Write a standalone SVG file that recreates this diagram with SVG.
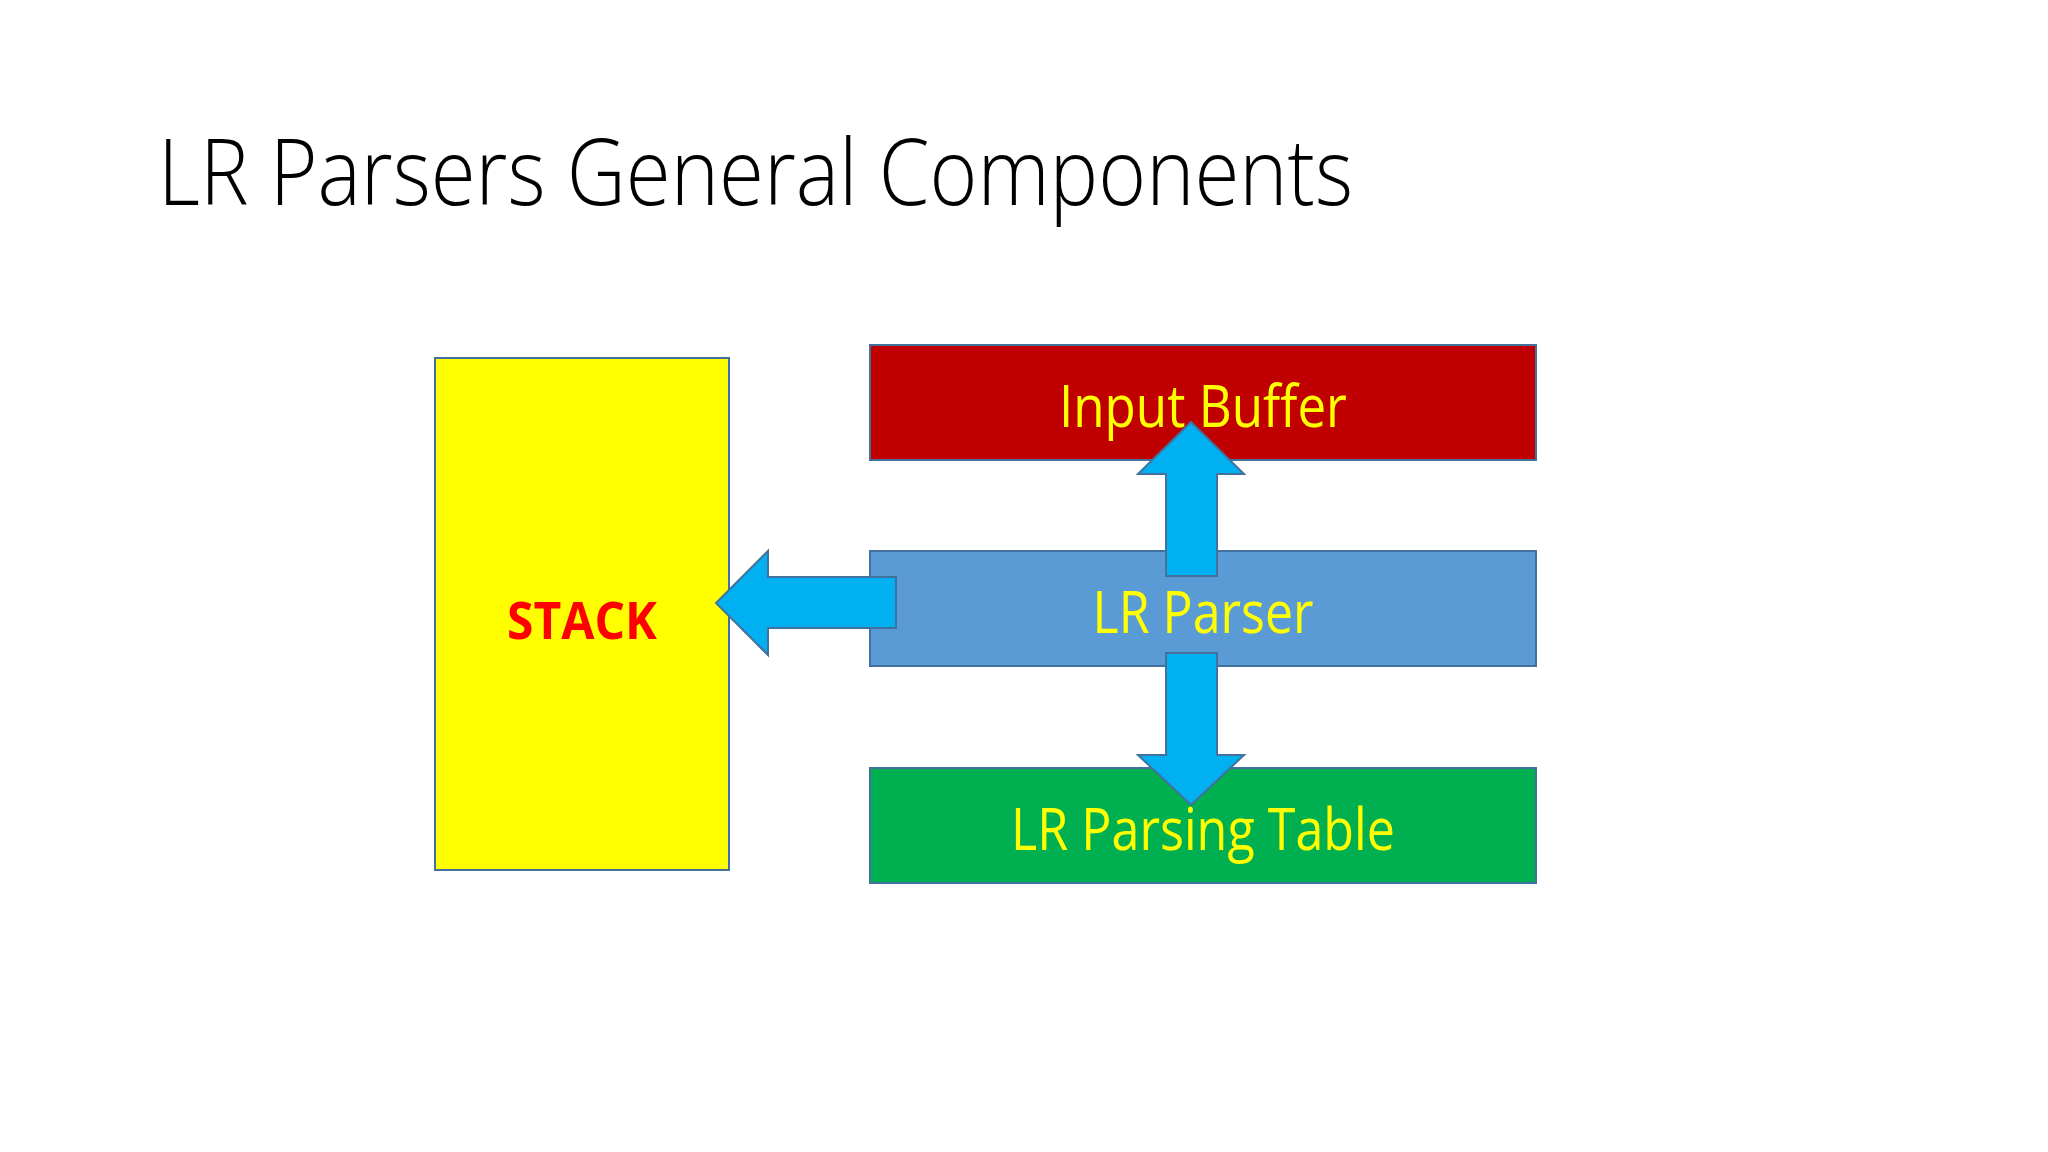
<svg xmlns="http://www.w3.org/2000/svg" width="2048" height="1152" viewBox="0 0 2048 1152">
<style>
.box{stroke:#41719C;stroke-width:2}
.arrow{fill:#00B0F0;stroke:#41719C;stroke-width:2;stroke-linejoin:miter}
.lbl{font-family:"Open Sans","Liberation Sans",sans-serif;font-size:58px;fill:#FFFF00;text-anchor:middle}
.title{font-family:"Open Sans","Liberation Sans",sans-serif;font-weight:300;font-size:92px;fill:#000000}
</style>
<rect width="2048" height="1152" fill="#FFFFFF"/>
<text class="title" x="158" y="205" textLength="1195" lengthAdjust="spacingAndGlyphs">LR Parsers General Components</text>
<g id="stack">
<rect class="box" x="435" y="358" width="294" height="512" fill="#FFFF00"/>
<text x="582" y="639" font-family="'Open Sans','Liberation Sans',sans-serif" font-weight="bold" font-size="52" fill="#FF0000" text-anchor="middle" textLength="150" lengthAdjust="spacingAndGlyphs">STACK</text>
</g>
<g id="input-buffer">
<rect class="box" x="870" y="345" width="666" height="115" fill="#C00000"/>
<text class="lbl" x="1203" y="427" textLength="288" lengthAdjust="spacingAndGlyphs">Input Buffer</text>
</g>
<g id="lr-parser">
<rect class="box" x="870" y="551" width="666" height="115" fill="#5B9BD5"/>
<text class="lbl" x="1203" y="633" textLength="221" lengthAdjust="spacingAndGlyphs">LR Parser</text>
</g>
<g id="lr-parsing-table">
<rect class="box" x="870" y="768" width="666" height="115" fill="#00B050"/>
<text class="lbl" x="1203" y="850" textLength="384" lengthAdjust="spacingAndGlyphs">LR Parsing Table</text>
</g>
<g id="connectors">
<path class="arrow" d="M1166,576 L1166,474 L1138,474 L1191,422 L1244,474 L1217,474 L1217,576 Z"/>
<path class="arrow" d="M1166,653 L1166,755 L1138,755 L1191,805 L1244,755 L1217,755 L1217,653 Z"/>
<path class="arrow" d="M896,577 L768,577 L768,551 L716,603 L768,655 L768,628 L896,628 Z"/>
</g>
</svg>
